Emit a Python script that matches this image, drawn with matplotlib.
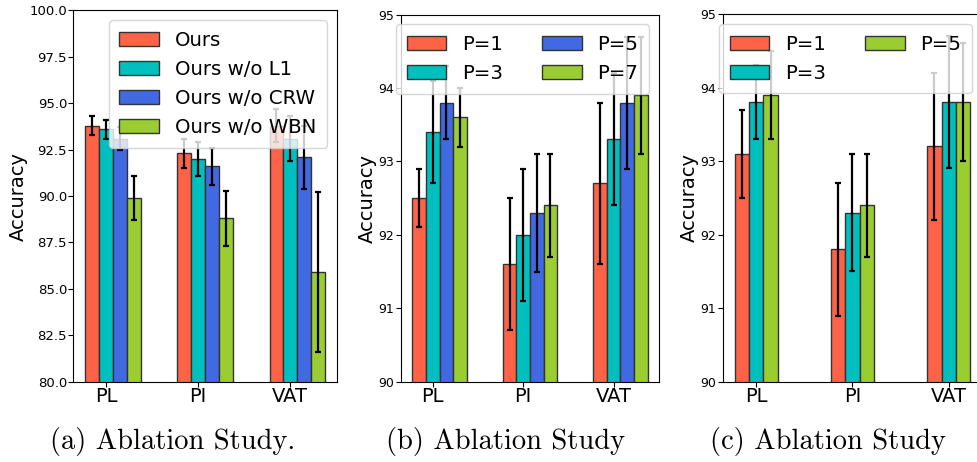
import matplotlib
matplotlib.use('Agg')
import matplotlib.pyplot as plt
import numpy as np

# Data
methods = ['PL', 'PI', 'VAT']

# (a) ablation over loss components
labels_a = ['Ours', 'Ours w/o L1', 'Ours w/o CRW', 'Ours w/o WBN']
acc_a = [[93.8, 92.3, 93.8],
         [93.6, 92.0, 93.1],
         [93.1, 91.6, 92.1],
         [89.9, 88.8, 85.9]]
err_a = [[0.5, 0.8, 0.9],
         [0.5, 0.9, 1.2],
         [0.6, 1.0, 1.7],
         [1.2, 1.5, 4.3]]

# (b) ablation over P
labels_b = ['P=1', 'P=3', 'P=5', 'P=7']
acc_b = [[92.5, 91.6, 92.7],
         [93.4, 92.0, 93.3],
         [93.8, 92.3, 93.8],
         [93.6, 92.4, 93.9]]
err_b = [[0.4, 0.9, 1.1],
         [0.7, 0.9, 0.9],
         [0.5, 0.8, 0.9],
         [0.4, 0.7, 0.8]]

# (c) ablation over P
labels_c = ['P=1', 'P=3', 'P=5']
acc_c = [[93.1, 91.8, 93.2],
         [93.8, 92.3, 93.8],
         [93.9, 92.4, 93.8]]
err_c = [[0.6, 0.9, 1.0],
         [0.5, 0.8, 0.9],
         [0.6, 0.7, 0.8]]

colors_4 = ['tomato', 'c', 'royalblue', 'yellowgreen']
colors_3 = ['tomato', 'c', 'yellowgreen']

width = 0.15
ind = np.arange(len(methods))

fig = plt.figure(figsize=(9.78, 4.62), dpi=100)


def draw(ax, acc, err, labels, colors, ylim, yticks, ytick_size, legend_kw):
    for i, (vals, e) in enumerate(zip(acc, err)):
        ax.bar(ind + i * width, vals, width, yerr=e, color=colors[i],
               edgecolor='#333333', linewidth=1.0, label=labels[i],
               capsize=2.5,
               error_kw=dict(elinewidth=1.6, capthick=1.6, ecolor='black'))
    ax.set_ylim(*ylim)
    ax.set_yticks(yticks)
    ax.tick_params(axis='y', labelsize=ytick_size, pad=1)
    ax.tick_params(axis='x', pad=0.5)
    ax.set_xticks(ind + width)
    ax.set_xticklabels(methods, fontsize=14)
    ax.set_ylabel('Accuracy', fontsize=14, labelpad=1)
    ax.legend(loc='upper right', fontsize=14.2, borderpad=0.55, **legend_kw)


ax1 = fig.add_axes([0.075, 0.1738, 0.2693, 0.8035])
draw(ax1, acc_a, err_a, labels_a, colors_4, (80, 100),
     np.arange(80, 100.1, 2.5), 9.5, {})
ax1.set_yticklabels(['%.1f' % t for t in np.arange(80, 100.1, 2.5)])

ax2 = fig.add_axes([0.4097, 0.1738, 0.2644, 0.7948])
draw(ax2, acc_b, err_b, labels_b, colors_4, (90, 95),
     np.arange(90, 96), 9, dict(ncol=2))

ax3 = fig.add_axes([0.739, 0.1738, 0.2653, 0.796])
draw(ax3, acc_c, err_c, labels_c, colors_3, (90, 95),
     np.arange(90, 96), 9, dict(ncol=2))

# sub-captions
captions = ['(a) Ablation Study.', '(b) Ablation Study', '(c) Ablation Study']
cap_x = [173, 506, 828]
for cx, txt in zip(cap_x, captions):
    fig.text(cx / 978, 1 - 442 / 462, txt, ha='center', va='center',
             fontsize=20.5, family='cmr10')

plt.savefig('out.png', dpi=100)
